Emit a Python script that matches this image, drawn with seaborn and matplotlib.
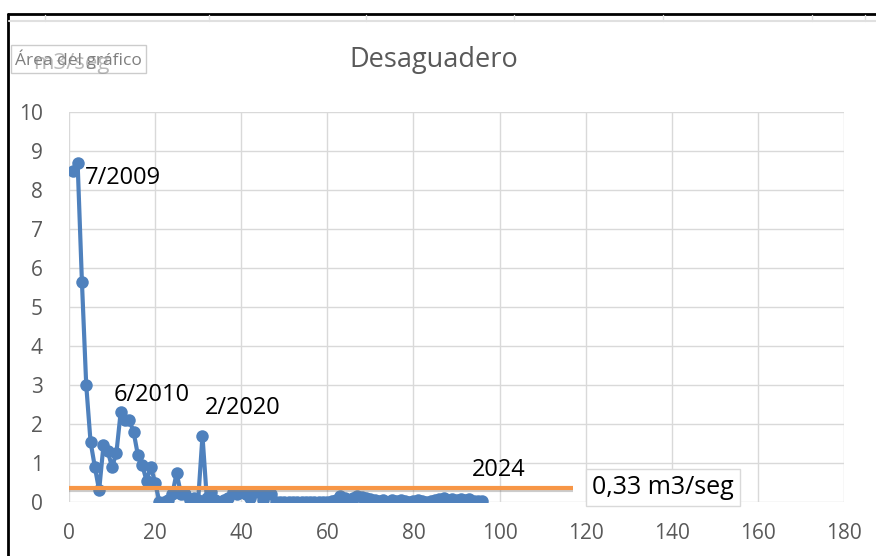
import matplotlib
matplotlib.use("Agg")
import matplotlib.pyplot as plt
import matplotlib.patheffects as pe
from matplotlib.lines import Line2D
import seaborn as sns
import pandas as pd

# caudal mensual (m3/seg), indice de medicion 1..96
meses = list(range(1, 97))
caudal = [8.5, 8.7, 5.65, 3.0, 1.55, 0.9, 0.3, 1.45, 1.3, 0.9,
          1.25, 2.3, 2.1, 2.1, 1.8, 1.2, 0.95, 0.55, 0.9, 0.5,
          0.0, 0.0, 0.05, 0.2, 0.75, 0.2, 0.2, 0.05, 0.1, 0.05,
          1.7, 0.1, 0.25, 0.05, 0.0, 0.05, 0.1, 0.25, 0.2, 0.25,
          0.2, 0.1, 0.25, 0.25, 0.05, 0.25, 0.2, 0.0, 0.0, 0.0,
          0.0, 0.0, 0.0, 0.0, 0.0, 0.0, 0.0, 0.0, 0.01, 0.01,
          0.02, 0.05, 0.15, 0.1, 0.05, 0.1, 0.15, 0.12, 0.1, 0.08,
          0.05, 0.02, 0.05, 0.0, 0.05, 0.02, 0.05, 0.02, 0.0, 0.02,
          0.05, 0.02, 0.0, 0.03, 0.05, 0.07, 0.1, 0.05, 0.08, 0.05,
          0.07, 0.05, 0.08, 0.03, 0.02, 0.02]

# linea de promedio
prom_x = [0, 117]
prom_y = [0.37, 0.37]

etiquetas = [("7/2009", 3.6, 8.3), ("6/2010", 10.3, 2.74), ("2/2020", 31.5, 2.41), ("2024", 93.5, 0.82)]

data = pd.DataFrame({"mes": meses, "caudal": caudal})

sns.set_style("white")
plt.rcParams["font.family"] = ["Open Sans", "DejaVu Sans"]

fig = plt.figure(figsize=(8.76, 5.56), dpi=100)
ax = fig.add_axes([69 / 876, 1 - 502 / 556, (844 - 69) / 876, (502 - 112) / 556])

sns.lineplot(data=data, x="mes", y="caudal", ax=ax, color="#4F81BD", marker="o",
             markersize=9, markeredgewidth=0, linewidth=3, zorder=3)
ax.plot(prom_x, prom_y, color="#F79646", linewidth=3, zorder=4, solid_capstyle="butt",
        path_effects=[pe.SimpleLineShadow(offset=(0, -2), shadow_color="gray", alpha=0.4), pe.Normal()])

ax.set_xlim(0, 180)
ax.set_ylim(0, 10)
ax.set_xticks(range(0, 181, 20))
ax.set_yticks(range(0, 11))
ax.grid(True, color="#d9d9d9", linewidth=1)
for s in ax.spines.values():
    s.set_visible(False)
ax.tick_params(axis="both", length=0, labelsize=15, labelcolor="#595959")
ax.tick_params(axis="y", pad=19)
ax.tick_params(axis="x", pad=15)
ax.set_xlabel("")
ax.set_ylabel("")

for txt, x, y in etiquetas:
    ax.text(x, y, txt, fontsize=17, color="black", va="center", ha="left", zorder=5)

ax.text(121.5, 0.37, "0,33 m3/seg", fontsize=18, color="black", va="center", ha="left",
        bbox=dict(boxstyle="square,pad=0.25", facecolor="white", edgecolor="#d9d9d9", linewidth=1))

fig.text(434 / 876, 1 - 60 / 556, "Desaguadero", fontsize=19.5, color="#595959", ha="center", va="center")
# tooltip de Excel encima del titulo del eje
fig.text(15 / 876, 1 - 59 / 556, "Área del gráfico", fontsize=12.5, color="#7f7f7f", ha="left", va="center",
         bbox=dict(boxstyle="square,pad=0.25", facecolor="white", edgecolor="#cccccc"))
fig.text(33 / 876, 1 - 64 / 556, "m3/seg", fontsize=16, color="#8c8c8c", alpha=0.6, ha="left", va="center")

# marco de la hoja
fig.add_artist(Line2D([8 / 876, 1], [1 - 14 / 556] * 2, color="black", linewidth=2))
fig.add_artist(Line2D([8 / 876] * 2, [0, 1 - 14 / 556], color="black", linewidth=2))
fig.add_artist(Line2D([9 / 876, 1], [1 - 21 / 556] * 2, color="#e0e0e0", linewidth=1.5))
for px in [45, 209, 366, 514, 663, 812, 865]:
    fig.add_artist(Line2D([px / 876] * 2, [1 - 15 / 556, 1 - 21 / 556], color="#e0e0e0", linewidth=1))

fig.savefig("out.png", dpi=100)
